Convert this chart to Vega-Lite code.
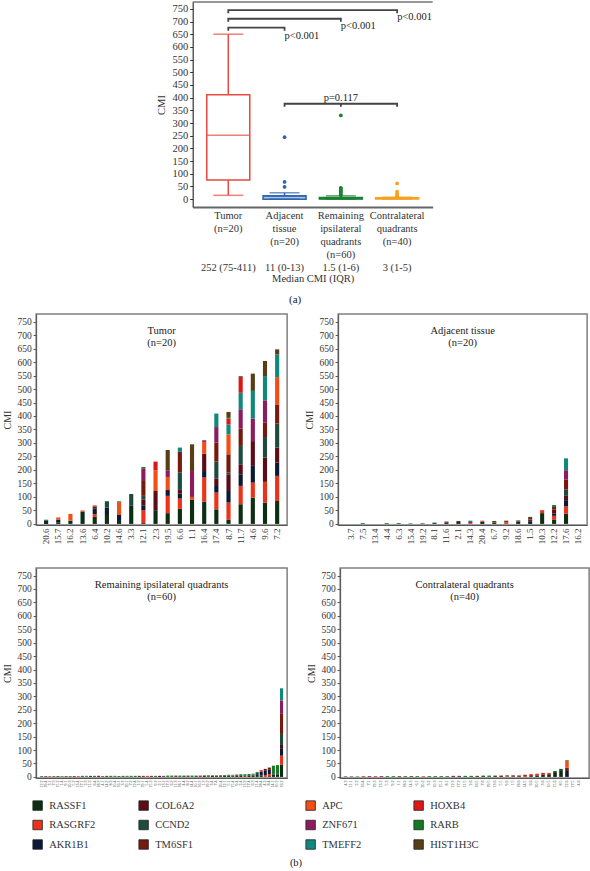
{
"$schema": "https://vega.github.io/schema/vega-lite/v6.json",
"padding": {"left": 2, "top": 1, "right": 0, "bottom": 0},
"background": "white",
"datasets": {
"gk": [
{"gene":"RASSF1","k":1},{"gene":"RASGRF2","k":2},{"gene":"AKR1B1","k":3},{"gene":"COL6A2","k":4},{"gene":"CCND2","k":5},{"gene":"TM6SF1","k":6},
{"gene":"APC","k":7},{"gene":"ZNF671","k":8},{"gene":"TMEFF2","k":9},{"gene":"HOXB4","k":10},{"gene":"RARB","k":11},{"gene":"HIST1H3C","k":12}
],
"box": [
{"g":"Tumor","lo":15,"q1":75,"med":252,"q3":411,"hi":650},
{"g":"Adjacent","lo":0,"q1":0,"med":11,"q3":13,"hi":25},
{"g":"Remaining","lo":0,"q1":1,"med":1.5,"q3":6,"hi":13},
{"g":"Contralateral","lo":0,"q1":1,"med":3,"q3":5,"hi":8}
],
"out": [
{"g":"Adjacent","v":48},{"g":"Adjacent","v":68},{"g":"Adjacent","v":244},
{"g":"Remaining","v":15},{"g":"Remaining","v":18},{"g":"Remaining","v":25},{"g":"Remaining","v":30},{"g":"Remaining","v":35},{"g":"Remaining","v":42},{"g":"Remaining","v":44},{"g":"Remaining","v":330},
{"g":"Contralateral","v":10},{"g":"Contralateral","v":12},{"g":"Contralateral","v":15},{"g":"Contralateral","v":22},{"g":"Contralateral","v":30},{"g":"Contralateral","v":62}
],
"brk": [
{"b":1,"o":1,"g":"Tumor","y":733},{"b":1,"o":2,"g":"Tumor","y":745},{"b":1,"o":3,"g":"Contralateral","y":745},{"b":1,"o":4,"g":"Contralateral","y":733},
{"b":2,"o":1,"g":"Tumor","y":699},{"b":2,"o":2,"g":"Tumor","y":711},{"b":2,"o":3,"g":"Remaining","y":711},{"b":2,"o":4,"g":"Remaining","y":699},
{"b":3,"o":1,"g":"Tumor","y":664},{"b":3,"o":2,"g":"Tumor","y":676},{"b":3,"o":3,"g":"Adjacent","y":676},{"b":3,"o":4,"g":"Adjacent","y":664},
{"b":4,"o":1,"g":"Adjacent","y":364},{"b":4,"o":2,"g":"Adjacent","y":376},{"b":4,"o":3,"g":"Contralateral","y":376},{"b":4,"o":4,"g":"Contralateral","y":364}
],
"mid": [{"g":"Remaining","y":376,"y2":364}],
"ptxt": [
{"g":"Contralateral","y":737,"t":"p<0.001"},
{"g":"Remaining","y":702,"t":"p<0.001"},
{"g":"Adjacent","y":664,"t":"p<0.001"}
],
"ptxt2": [{"g":"Remaining","y":379,"t":"p=0.117"}],
"bars": [
{"p":"T","s":"20.6","RASSF1":12,"CCND2":3},
{"p":"T","s":"15.7","RASSF1":6,"AKR1B1":10,"APC":8},
{"p":"T","s":"16.2","RASSF1":12,"APC":25},
{"p":"T","s":"13.6","RASSF1":46,"APC":4},
{"p":"T","s":"6.4","RASSF1":26,"RASGRF2":10,"AKR1B1":21,"COL6A2":8,"APC":4},
{"p":"T","s":"10.2","RASSF1":33,"AKR1B1":27,"CCND2":24},
{"p":"T","s":"14.6","RASSF1":11,"AKR1B1":22,"APC":48,"TMEFF2":3},
{"p":"T","s":"3.3","RASSF1":69,"CCND2":42},
{"p":"T","s":"12.1","RASSF1":3,"RASGRF2":48,"AKR1B1":18,"COL6A2":22,"CCND2":13,"TM6SF1":55,"ZNF671":47,"RARB":5},
{"p":"T","s":"2.3","RASSF1":51,"COL6A2":71,"APC":77,"HOXB4":32},
{"p":"T","s":"19.5","RASSF1":40,"RASGRF2":64,"AKR1B1":18,"COL6A2":6,"APC":46,"ZNF671":25,"HIST1H3C":75},
{"p":"T","s":"6.6","RASSF1":56,"RASGRF2":38,"AKR1B1":18,"COL6A2":14,"CCND2":64,"TM6SF1":77,"TMEFF2":16},
{"p":"T","s":"1.1","RASSF1":89,"APC":11,"ZNF671":96,"HIST1H3C":99},
{"p":"T","s":"16.4","RASSF1":83,"RASGRF2":89,"AKR1B1":24,"COL6A2":64,"APC":44,"ZNF671":6},
{"p":"T","s":"17.4","RASSF1":54,"RASGRF2":62,"AKR1B1":28,"COL6A2":25,"CCND2":62,"TM6SF1":70,"ZNF671":58,"TMEFF2":50},
{"p":"T","s":"8.7","RASSF1":15,"RASGRF2":64,"AKR1B1":43,"COL6A2":62,"CCND2":6,"TM6SF1":68,"APC":74,"TMEFF2":37,"HOXB4":22,"RARB":5,"HIST1H3C":19},
{"p":"T","s":"11.7","RASSF1":73,"RASGRF2":68,"AKR1B1":43,"COL6A2":37,"CCND2":68,"TM6SF1":65,"ZNF671":71,"TMEFF2":61,"HOXB4":59,"RARB":3},
{"p":"T","s":"4.6","RASSF1":97,"RASGRF2":56,"AKR1B1":62,"COL6A2":92,"ZNF671":84,"TMEFF2":102,"HIST1H3C":64},
{"p":"T","s":"9.6","RASSF1":79,"RASGRF2":77,"COL6A2":90,"CCND2":76,"TM6SF1":53,"ZNF671":83,"TMEFF2":90,"HIST1H3C":56},
{"p":"T","s":"7.2","RASSF1":85,"RASGRF2":93,"AKR1B1":49,"COL6A2":56,"CCND2":89,"TM6SF1":71,"APC":101,"TMEFF2":84,"HIST1H3C":19},
{"p":"A","s":"7.5","RARB":3},
{"p":"A","s":"4.4","RARB":3},
{"p":"A","s":"6.3","RARB":3},
{"p":"A","s":"15.4","RARB":2},
{"p":"A","s":"19.2","APC":1,"HIST1H3C":2},
{"p":"A","s":"8.1","RASSF1":3,"RARB":2},
{"p":"A","s":"11.6","RASSF1":4,"ZNF671":5},
{"p":"A","s":"2.1","RASSF1":7,"HIST1H3C":4},
{"p":"A","s":"14.3","RASGRF2":3,"ZNF671":4,"TMEFF2":5},
{"p":"A","s":"20.4","RASSF1":8,"RASGRF2":4},
{"p":"A","s":"6.7","RASSF1":5,"HIST1H3C":6},
{"p":"A","s":"9.2","RASGRF2":6,"HIST1H3C":6},
{"p":"A","s":"18.6","RASSF1":9,"HIST1H3C":4},
{"p":"A","s":"1.5","AKR1B1":10,"TM6SF1":6,"HIST1H3C":10},
{"p":"A","s":"10.3","RASSF1":40,"RASGRF2":11},
{"p":"A","s":"12.2","RASSF1":15,"RASGRF2":15,"AKR1B1":8,"COL6A2":15,"TM6SF1":10,"RARB":7},
{"p":"A","s":"17.6","RASSF1":38,"RASGRF2":27,"AKR1B1":23,"COL6A2":16,"CCND2":24,"TM6SF1":37,"ZNF671":34,"TMEFF2":44},
{"p":"R","s":"12.2","RARB":3},
{"p":"R","s":"19.4","ZNF671":3},
{"p":"R","s":"3.1","RASGRF2":3},
{"p":"R","s":"7.3","RARB":3},
{"p":"R","s":"15.2","TM6SF1":3},
{"p":"R","s":"1.4","RASSF1":1,"RARB":2},
{"p":"R","s":"9.1","HIST1H3C":3},
{"p":"R","s":"20.3","RARB":3},
{"p":"R","s":"5.2","TM6SF1":3},
{"p":"R","s":"13.4","RASGRF2":3},
{"p":"R","s":"17.1","RARB":4},
{"p":"R","s":"2.3","RASSF1":1,"RARB":3},
{"p":"R","s":"11.2","TM6SF1":4},
{"p":"R","s":"6.4","RARB":4},
{"p":"R","s":"18.3","ZNF671":4},
{"p":"R","s":"4.1","RARB":3},
{"p":"R","s":"14.2","HIST1H3C":4},
{"p":"R","s":"8.3","RARB":4},
{"p":"R","s":"10.4","RASSF1":2,"RARB":2},
{"p":"R","s":"16.1","CCND2":3},
{"p":"R","s":"3.3","RARB":4},
{"p":"R","s":"20.1","RASSF1":2,"HIST1H3C":2},
{"p":"R","s":"7.2","RARB":4},
{"p":"R","s":"12.4","RARB":4},
{"p":"R","s":"1.2","TM6SF1":4},
{"p":"R","s":"19.1","HIST1H3C":4},
{"p":"R","s":"5.4","RASGRF2":4},
{"p":"R","s":"15.3","ZNF671":4},
{"p":"R","s":"9.3","RARB":4},
{"p":"R","s":"2.1","COL6A2":4},
{"p":"R","s":"13.1","ZNF671":4},
{"p":"R","s":"17.3","RARB":5},
{"p":"R","s":"6.2","RARB":5},
{"p":"R","s":"11.3","ZNF671":5},
{"p":"R","s":"18.1","RARB":5},
{"p":"R","s":"4.4","RASSF1":3,"RARB":2},
{"p":"R","s":"8.2","HIST1H3C":5},
{"p":"R","s":"14.4","RARB":5},
{"p":"R","s":"10.1","RASSF1":3,"RARB":2},
{"p":"R","s":"16.3","ZNF671":5},
{"p":"R","s":"1.3","RASSF1":4,"RARB":2},
{"p":"R","s":"19.2","TM6SF1":3,"RARB":3},
{"p":"R","s":"3.4","RASSF1":4,"HIST1H3C":2},
{"p":"R","s":"7.4","TM6SF1":4,"RARB":2},
{"p":"R","s":"20.4","HIST1H3C":6},
{"p":"R","s":"12.1","RASSF1":4,"RARB":3},
{"p":"R","s":"5.1","RASSF1":5,"RARB":3},
{"p":"R","s":"15.4","RASSF1":3,"RASGRF2":2,"RARB":3},
{"p":"R","s":"9.4","RASSF1":4,"ZNF671":3,"RARB":2},
{"p":"R","s":"2.4","RASSF1":6,"RARB":4},
{"p":"R","s":"13.2","HOXB4":4,"RARB":6},
{"p":"R","s":"17.4","RASSF1":6,"RARB":5},
{"p":"R","s":"6.3","RASSF1":5,"TM6SF1":4,"RARB":3},
{"p":"R","s":"11.4","RASSF1":8,"AKR1B1":6,"RARB":4},
{"p":"R","s":"18.4","RASSF1":5,"AKR1B1":15,"HOXB4":5},
{"p":"R","s":"4.2","AKR1B1":18,"RASGRF2":7,"TM6SF1":5},
{"p":"R","s":"8.4","RASSF1":3,"AKR1B1":15,"RASGRF2":8,"TM6SF1":9},
{"p":"R","s":"14.1","RASSF1":8,"RARB":28,"CCND2":6},
{"p":"R","s":"10.2","RASSF1":10,"RARB":30,"CCND2":4},
{"p":"R","s":"16.2","RASSF1":45,"RASGRF2":34,"AKR1B1":28,"COL6A2":12,"CCND2":41,"TM6SF1":75,"ZNF671":50,"TMEFF2":45},
{"p":"C","s":"4.3","CCND2":2},
{"p":"C","s":"11.1","HIST1H3C":2},
{"p":"C","s":"2.2","RARB":2},
{"p":"C","s":"16.4","RASGRF2":3},
{"p":"C","s":"7.1","ZNF671":3},
{"p":"C","s":"19.3","RASGRF2":3},
{"p":"C","s":"13.3","ZNF671":3},
{"p":"C","s":"5.3","RARB":3},
{"p":"C","s":"9.2","RARB":3},
{"p":"C","s":"1.1","HIST1H3C":3},
{"p":"C","s":"18.2","RARB":3},
{"p":"C","s":"14.3","HIST1H3C":3},
{"p":"C","s":"6.1","RARB":3},
{"p":"C","s":"20.2","APC":3},
{"p":"C","s":"3.2","RARB":3},
{"p":"C","s":"10.3","RARB":3},
{"p":"C","s":"15.1","RARB":3},
{"p":"C","s":"8.1","RARB":3},
{"p":"C","s":"12.3","ZNF671":4},
{"p":"C","s":"17.2","HIST1H3C":4},
{"p":"C","s":"11.5","RARB":4},
{"p":"C","s":"2.6","RARB":4},
{"p":"C","s":"16.5","HIST1H3C":4},
{"p":"C","s":"7.6","RASSF1":3,"RARB":2},
{"p":"C","s":"19.5","RARB":5},
{"p":"C","s":"13.6","RASSF1":3,"HIST1H3C":2},
{"p":"C","s":"5.5","TM6SF1":5},
{"p":"C","s":"9.6","RASGRF2":3,"RARB":3},
{"p":"C","s":"1.5","ZNF671":3,"HIST1H3C":3},
{"p":"C","s":"18.6","RASSF1":3,"RASGRF2":3},
{"p":"C","s":"14.5","RASGRF2":4,"TM6SF1":4},
{"p":"C","s":"6.6","RASSF1":3,"HOXB4":7},
{"p":"C","s":"20.5","RASSF1":6,"RASGRF2":6},
{"p":"C","s":"3.6","RASSF1":8,"HOXB4":7},
{"p":"C","s":"10.5","RASSF1":10,"RASGRF2":5},
{"p":"C","s":"15.6","RASSF1":18,"RARB":4},
{"p":"C","s":"8.5","RASSF1":22,"CCND2":8},
{"p":"C","s":"12.6","AKR1B1":22,"TM6SF1":12,"APC":25,"RARB":3}
]
},
"vconcat": [
{
"width": 240, "height": 205,
"view": {"stroke": null},
"title": {"text": "(a)", "orient": "bottom", "offset": 10, "fontSize": 11, "frame": "bounds", "anchor": "middle"},
"layer": [
{"data": {"values": [{}]}, "mark": {"type": "rule", "color": "#333", "strokeWidth": 1.2},
 "encoding": {"y": {"datum": 777, "type": "quantitative", "scale": {"domain": [-31, 777], "nice": false, "zero": false},
        "axis": {"title": "CMI", "values": [0,50,100,150,200,250,300,350,400,450,500,550,600,650,700,750], "tickCount": 16, "labelOverlap": false, "tickSize": 3, "labelPadding": 2, "labelFontSize": 10.5, "titleFontSize": 10.5, "titlePadding": 5, "domainColor": "#333", "domainWidth": 1.2, "tickColor": "#333"}}}},
{"data": {"name": "box"}, "mark": {"type": "rule", "strokeWidth": 1.5},
 "encoding": {
  "x": {"field": "g", "type": "nominal", "scale": {"domain": ["Tumor","Adjacent","Remaining","Contralateral"], "paddingInner": 0.236, "paddingOuter": 0.25},
        "axis": {"title": "Median CMI (IQR)", "labelExpr": "datum.value == 'Tumor' ? ['Tumor', '(n=20)', '\u2800', '\u2800', '252 (75-411)'] : datum.value == 'Adjacent' ? ['Adjacent', 'tissue', '(n=20)', '\u2800', '11 (0-13)'] : datum.value == 'Remaining' ? ['Remaining', 'ipsilateral', 'quadrants', '(n=60)', '1.5 (1-6)'] : ['Contralateral', 'quadrants', '(n=40)', '\u2800', '3 (1-5)']",
                 "labelAngle": 0, "ticks": false, "labelPadding": 3, "labelFontSize": 10.5, "labelLineHeight": 13, "labelBaseline": "top", "labelOverlap": false, "titleFontSize": 10.5, "titlePadding": 1, "domainColor": "#666", "domainWidth": 2}},
  "y": {"field": "lo", "type": "quantitative", "scale": {"domain": [-31, 777], "nice": false, "zero": false},
        "axis": {"title": "CMI", "values": [0,50,100,150,200,250,300,350,400,450,500,550,600,650,700,750], "tickCount": 16, "labelOverlap": false, "tickSize": 3, "labelPadding": 2, "labelFontSize": 10.5, "titleFontSize": 10.5, "titlePadding": 5, "domainColor": "#333", "domainWidth": 1.2, "tickColor": "#333"}},
  "y2": {"field": "q1"},
  "color": {"field": "g", "type": "nominal", "scale": {"domain": ["Tumor","Adjacent","Remaining","Contralateral"], "range": ["#e84a3f","#2f64b0","#1b8030","#f6a21e"]}, "legend": null}
 }},
{"data": {"name": "box"}, "mark": {"type": "rule", "strokeWidth": 1.5},
 "encoding": {
  "x": {"field": "g", "type": "nominal", "scale": {"domain": ["Tumor","Adjacent","Remaining","Contralateral"], "paddingInner": 0.236, "paddingOuter": 0.25}},
  "y": {"field": "q3", "type": "quantitative", "scale": {"domain": [-31, 777], "nice": false, "zero": false}},
  "y2": {"field": "hi"},
  "color": {"field": "g", "type": "nominal", "scale": {"domain": ["Tumor","Adjacent","Remaining","Contralateral"], "range": ["#e84a3f","#2f64b0","#1b8030","#f6a21e"]}, "legend": null}
 }},
{"data": {"name": "box"}, "mark": {"type": "bar", "strokeWidth": 1.5},
 "encoding": {
  "x": {"field": "g", "type": "nominal", "scale": {"domain": ["Tumor","Adjacent","Remaining","Contralateral"], "paddingInner": 0.236, "paddingOuter": 0.25}},
  "y": {"field": "q1", "type": "quantitative", "scale": {"domain": [-31, 777], "nice": false, "zero": false}},
  "y2": {"field": "q3"},
  "fill": {"field": "g", "type": "nominal", "scale": {"domain": ["Tumor","Adjacent","Remaining","Contralateral"], "range": ["#e84a3f","#2f64b0","#1b8030","#f6a21e"]}, "legend": null},
  "stroke": {"field": "g", "type": "nominal", "scale": {"domain": ["Tumor","Adjacent","Remaining","Contralateral"], "range": ["#e84a3f","#2f64b0","#1b8030","#f6a21e"]}, "legend": null},
  "fillOpacity": {"condition": {"test": "datum.g == 'Tumor'", "value": 0}, "value": 0.4}
 }},
{"data": {"name": "box"}, "mark": {"type": "tick", "orient": "horizontal", "size": 43, "thickness": 1.5},
 "encoding": {
  "x": {"field": "g", "type": "nominal", "scale": {"domain": ["Tumor","Adjacent","Remaining","Contralateral"], "paddingInner": 0.236, "paddingOuter": 0.25}},
  "y": {"field": "med", "type": "quantitative", "scale": {"domain": [-31, 777], "nice": false, "zero": false}},
  "color": {"field": "g", "type": "nominal", "scale": {"domain": ["Tumor","Adjacent","Remaining","Contralateral"], "range": ["#e84a3f","#2f64b0","#1b8030","#f6a21e"]}, "legend": null}
 }},
{"data": {"name": "box"}, "mark": {"type": "tick", "orient": "horizontal", "size": 30, "thickness": 1.5},
 "encoding": {
  "x": {"field": "g", "type": "nominal", "scale": {"domain": ["Tumor","Adjacent","Remaining","Contralateral"], "paddingInner": 0.236, "paddingOuter": 0.25}},
  "y": {"field": "hi", "type": "quantitative", "scale": {"domain": [-31, 777], "nice": false, "zero": false}},
  "color": {"field": "g", "type": "nominal", "scale": {"domain": ["Tumor","Adjacent","Remaining","Contralateral"], "range": ["#e84a3f","#2f64b0","#1b8030","#f6a21e"]}, "legend": null}
 }},
{"data": {"name": "box"}, "mark": {"type": "tick", "orient": "horizontal", "size": 30, "thickness": 1.5},
 "encoding": {
  "x": {"field": "g", "type": "nominal", "scale": {"domain": ["Tumor","Adjacent","Remaining","Contralateral"], "paddingInner": 0.236, "paddingOuter": 0.25}},
  "y": {"field": "lo", "type": "quantitative", "scale": {"domain": [-31, 777], "nice": false, "zero": false}},
  "color": {"field": "g", "type": "nominal", "scale": {"domain": ["Tumor","Adjacent","Remaining","Contralateral"], "range": ["#e84a3f","#2f64b0","#1b8030","#f6a21e"]}, "legend": null}
 }},
{"data": {"name": "out"}, "mark": {"type": "circle", "size": 14, "opacity": 1},
 "encoding": {
  "x": {"field": "g", "type": "nominal", "scale": {"domain": ["Tumor","Adjacent","Remaining","Contralateral"], "paddingInner": 0.236, "paddingOuter": 0.25}},
  "y": {"field": "v", "type": "quantitative", "scale": {"domain": [-31, 777], "nice": false, "zero": false}},
  "color": {"field": "g", "type": "nominal", "scale": {"domain": ["Tumor","Adjacent","Remaining","Contralateral"], "range": ["#e84a3f","#2f64b0","#1b8030","#f6a21e"]}, "legend": null}
 }},
{"data": {"name": "brk"}, "mark": {"type": "line", "color": "#444", "strokeWidth": 1.8},
 "encoding": {
  "x": {"field": "g", "type": "nominal", "scale": {"domain": ["Tumor","Adjacent","Remaining","Contralateral"], "paddingInner": 0.236, "paddingOuter": 0.25}},
  "y": {"field": "y", "type": "quantitative", "scale": {"domain": [-31, 777], "nice": false, "zero": false}},
  "detail": {"field": "b", "type": "nominal"},
  "order": {"field": "o", "type": "quantitative"}
 }},
{"data": {"name": "mid"}, "mark": {"type": "rule", "color": "#444", "strokeWidth": 1.8},
 "encoding": {
  "x": {"field": "g", "type": "nominal", "scale": {"domain": ["Tumor","Adjacent","Remaining","Contralateral"], "paddingInner": 0.236, "paddingOuter": 0.25}},
  "y": {"field": "y", "type": "quantitative", "scale": {"domain": [-31, 777], "nice": false, "zero": false}},
  "y2": {"field": "y2"}
 }},
{"data": {"name": "ptxt"}, "mark": {"type": "text", "align": "left", "baseline": "top", "fontSize": 10.5, "color": "#222"},
 "encoding": {
  "x": {"field": "g", "type": "nominal", "scale": {"domain": ["Tumor","Adjacent","Remaining","Contralateral"], "paddingInner": 0.236, "paddingOuter": 0.25}},
  "y": {"field": "y", "type": "quantitative", "scale": {"domain": [-31, 777], "nice": false, "zero": false}},
  "text": {"field": "t"}
 }},
{"data": {"name": "ptxt2"}, "mark": {"type": "text", "align": "center", "baseline": "bottom", "fontSize": 10.5, "color": "#222"},
 "encoding": {
  "x": {"field": "g", "type": "nominal", "scale": {"domain": ["Tumor","Adjacent","Remaining","Contralateral"], "paddingInner": 0.236, "paddingOuter": 0.25}},
  "y": {"field": "y", "type": "quantitative", "scale": {"domain": [-31, 777], "nice": false, "zero": false}},
  "text": {"field": "t"}
 }}
]
},
{
"spacing": 22,
"title": {"text": "(b)", "orient": "bottom", "offset": 6, "fontSize": 10.5, "anchor": "middle"},
"resolve": {"legend": {"color": "independent"}},
"vconcat": [
{
"spacing": 16,
"hconcat": [
{
"width": 251, "height": 211,
"title": {"text": ["Tumor", "(n=20)"], "offset": -34, "fontSize": 10.5, "lineHeight": 12},
"data": {"name": "bars"},
"transform": [{"filter": "datum.p == 'T'"}, {"fold": ["RASSF1","RASGRF2","AKR1B1","COL6A2","CCND2","TM6SF1","APC","ZNF671","TMEFF2","HOXB4","RARB","HIST1H3C"], "as": ["gene", "v"]}, {"filter": "datum.v > 0"}, {"lookup": "gene", "from": {"data": {"name": "gk"}, "key": "gene", "fields": ["k"]}}],
"mark": {"type": "bar"},
"encoding": {
 "x": {"field": "s", "type": "nominal", "scale": {"domain": ["20.6","15.7","16.2","13.6","6.4","10.2","14.6","3.3","12.1","2.3","19.5","6.6","1.1","16.4","17.4","8.7","11.7","4.6","9.6","7.2"], "paddingInner": 0.66, "paddingOuter": 0.65},
       "axis": {"title": null, "labelAngle": -90, "labelFontSize": 9, "ticks": false, "labelPadding": 3, "labelOverlap": false}},
 "y": {"field": "v", "type": "quantitative", "stack": "zero", "scale": {"domain": [-4, 778], "nice": false, "zero": false},
       "axis": {"title": "CMI", "values": [0,50,100,150,200,250,300,350,400,450,500,550,600,650,700,750], "tickSize": 3, "labelPadding": 2, "labelFontSize": 9.5, "titleFontSize": 10, "titlePadding": 4}},
 "order": {"field": "k", "type": "quantitative"},
 "color": {"field": "gene", "type": "nominal",
           "scale": {"domain": ["RASSF1","RASGRF2","AKR1B1","COL6A2","CCND2","TM6SF1","APC","ZNF671","TMEFF2","HOXB4","RARB","HIST1H3C"], "range": ["#0c2e12","#ec3218","#0a1a36","#5c0c16","#1f4b3f","#761a0f","#f24e16","#8c1c5e","#11887c","#dd1616","#15791f","#583e17"]}, "legend": null}
}
},
{
"width": 249, "height": 211,
"title": {"text": ["Adjacent tissue", "(n=20)"], "offset": -34, "fontSize": 10.5, "lineHeight": 12},
"data": {"name": "bars"},
"transform": [{"filter": "datum.p == 'A'"}, {"fold": ["RASSF1","RASGRF2","AKR1B1","COL6A2","CCND2","TM6SF1","APC","ZNF671","TMEFF2","HOXB4","RARB","HIST1H3C"], "as": ["gene", "v"]}, {"filter": "datum.v > 0"}, {"lookup": "gene", "from": {"data": {"name": "gk"}, "key": "gene", "fields": ["k"]}}],
"mark": {"type": "bar"},
"encoding": {
 "x": {"field": "s", "type": "nominal", "scale": {"domain": ["3.7","7.5","13.4","4.4","6.3","15.4","19.2","8.1","11.6","2.1","14.3","20.4","6.7","9.2","18.6","1.5","10.3","12.2","17.6","16.2"], "paddingInner": 0.66, "paddingOuter": 0.74, "align": 0.6},
       "axis": {"title": null, "labelAngle": -90, "labelFontSize": 9, "ticks": false, "labelPadding": 3, "labelOverlap": false}},
 "y": {"field": "v", "type": "quantitative", "stack": "zero", "scale": {"domain": [-4, 778], "nice": false, "zero": false},
       "axis": {"title": "CMI", "values": [0,50,100,150,200,250,300,350,400,450,500,550,600,650,700,750], "tickSize": 3, "labelPadding": 2, "labelFontSize": 9.5, "titleFontSize": 10, "titlePadding": 4}},
 "order": {"field": "k", "type": "quantitative"},
 "color": {"field": "gene", "type": "nominal",
           "scale": {"domain": ["RASSF1","RASGRF2","AKR1B1","COL6A2","CCND2","TM6SF1","APC","ZNF671","TMEFF2","HOXB4","RARB","HIST1H3C"], "range": ["#0c2e12","#ec3218","#0a1a36","#5c0c16","#1f4b3f","#761a0f","#f24e16","#8c1c5e","#11887c","#dd1616","#15791f","#583e17"]}, "legend": null}
}
}
]
},
{
"spacing": 16,
"resolve": {"legend": {"color": "independent"}},
"hconcat": [
{
"width": 251, "height": 210,
"title": {"text": ["Remaining ipsilateral quadrants", "(n=60)"], "offset": -34, "fontSize": 10.5, "lineHeight": 12},
"data": {"name": "bars"},
"transform": [{"filter": "datum.p == 'R'"}, {"fold": ["RASSF1","RASGRF2","AKR1B1","COL6A2","CCND2","TM6SF1","APC","ZNF671","TMEFF2","HOXB4","RARB","HIST1H3C"], "as": ["gene", "v"]}, {"filter": "datum.v > 0"}, {"lookup": "gene", "from": {"data": {"name": "gk"}, "key": "gene", "fields": ["k"]}}],
"mark": {"type": "bar"},
"encoding": {
 "x": {"field": "s", "type": "nominal", "scale": {"domain": ["12.2","19.4","3.1","7.3","15.2","1.4","9.1","20.3","5.2","13.4","17.1","2.3","11.2","6.4","18.3","4.1","14.2","8.3","10.4","16.1","3.3","20.1","7.2","12.4","1.2","19.1","5.4","15.3","9.3","2.1","13.1","17.3","6.2","11.3","18.1","4.4","8.2","14.4","10.1","16.3","1.3","19.2","3.4","7.4","20.4","12.1","5.1","15.4","9.4","2.4","13.2","17.4","6.3","11.4","18.4","4.2","8.4","14.1","10.2","16.2"], "paddingInner": 0.25, "paddingOuter": 2.18},
       "axis": {"title": null, "labelAngle": -90, "labelFontSize": 4, "ticks": false, "labelPadding": 2, "labelOverlap": false}},
 "y": {"field": "v", "type": "quantitative", "stack": "zero", "scale": {"domain": [-4, 778], "nice": false, "zero": false},
       "axis": {"title": "CMI", "values": [0,50,100,150,200,250,300,350,400,450,500,550,600,650,700,750], "tickSize": 3, "labelPadding": 2, "labelFontSize": 9.5, "titleFontSize": 10, "titlePadding": 4}},
 "order": {"field": "k", "type": "quantitative"},
 "color": {"field": "gene", "type": "nominal",
           "scale": {"domain": ["RASSF1","RASGRF2","AKR1B1","COL6A2","CCND2","TM6SF1","APC","ZNF671","TMEFF2","HOXB4","RARB","HIST1H3C"], "range": ["#0c2e12","#ec3218","#0a1a36","#5c0c16","#1f4b3f","#761a0f","#f24e16","#8c1c5e","#11887c","#dd1616","#15791f","#583e17"]},
           "legend": {"orient": "none", "legendX": -4, "legendY": 232, "values": ["RASSF1","RASGRF2","AKR1B1","COL6A2","CCND2","TM6SF1"], "direction": "vertical", "columns": 2, "columnPadding": 41, "rowPadding": 6.5, "title": null, "symbolType": "square", "symbolSize": 90, "symbolOpacity": 1, "symbolStrokeColor": "#222", "symbolStrokeWidth": 0.8, "labelFontSize": 10.5, "labelOffset": 6, "labelColor": "#333", "padding": 0, "offset": 0}}
}
},
{
"width": 249, "height": 210,
"title": {"text": ["Contralateral quadrants", "(n=40)"], "offset": -34, "fontSize": 10.5, "lineHeight": 12},
"data": {"name": "bars"},
"transform": [{"filter": "datum.p == 'C'"}, {"fold": ["RASSF1","RASGRF2","AKR1B1","COL6A2","CCND2","TM6SF1","APC","ZNF671","TMEFF2","HOXB4","RARB","HIST1H3C"], "as": ["gene", "v"]}, {"filter": "datum.v > 0"}, {"lookup": "gene", "from": {"data": {"name": "gk"}, "key": "gene", "fields": ["k"]}}],
"mark": {"type": "bar"},
"encoding": {
 "x": {"field": "s", "type": "nominal", "scale": {"domain": ["4.3","11.1","2.2","16.4","7.1","19.3","13.3","5.3","9.2","1.1","18.2","14.3","6.1","20.2","3.2","10.3","15.1","8.1","12.3","17.2","11.5","2.6","16.5","7.6","19.5","13.6","5.5","9.6","1.5","18.6","14.5","6.6","20.5","3.6","10.5","15.6","8.5","12.6","17.5","4.6"], "paddingInner": 0.4, "paddingOuter": 2.17, "align": 0.3},
       "axis": {"title": null, "labelAngle": -90, "labelFontSize": 4, "ticks": false, "labelPadding": 2, "labelOverlap": false}},
 "y": {"field": "v", "type": "quantitative", "stack": "zero", "scale": {"domain": [-4, 778], "nice": false, "zero": false},
       "axis": {"title": "CMI", "values": [0,50,100,150,200,250,300,350,400,450,500,550,600,650,700,750], "tickSize": 3, "labelPadding": 2, "labelFontSize": 9.5, "titleFontSize": 10, "titlePadding": 4}},
 "order": {"field": "k", "type": "quantitative"},
 "color": {"field": "gene", "type": "nominal",
           "scale": {"domain": ["RASSF1","RASGRF2","AKR1B1","COL6A2","CCND2","TM6SF1","APC","ZNF671","TMEFF2","HOXB4","RARB","HIST1H3C"], "range": ["#0c2e12","#ec3218","#0a1a36","#5c0c16","#1f4b3f","#761a0f","#f24e16","#8c1c5e","#11887c","#dd1616","#15791f","#583e17"]},
           "legend": {"orient": "none", "legendX": -35, "legendY": 232, "values": ["APC","ZNF671","TMEFF2","HOXB4","RARB","HIST1H3C"], "direction": "vertical", "columns": 2, "columnPadding": 50, "rowPadding": 6.5, "title": null, "symbolType": "square", "symbolSize": 90, "symbolOpacity": 1, "symbolStrokeColor": "#222", "symbolStrokeWidth": 0.8, "labelFontSize": 10.5, "labelOffset": 6, "labelColor": "#333", "padding": 0, "offset": 0}}
}
}
]
}
]
}
],
"spacing": 8,
"center": true,
"resolve": {"scale": {"color": "independent", "fill": "independent", "stroke": "independent"}, "legend": {"color": "independent"}},
"config": {
 "font": "Liberation Serif",
 "axis": {"grid": false, "labelColor": "#333", "titleColor": "#333", "titleFontWeight": "normal", "domainColor": "#555", "tickColor": "#555", "labelFont": "Liberation Serif", "titleFont": "Liberation Serif"},
 "title": {"fontWeight": "normal", "color": "#222", "font": "Liberation Serif"},
 "legend": {"labelFont": "Liberation Serif"},
 "view": {"stroke": "#808080", "strokeWidth": 1.5}
}
}
